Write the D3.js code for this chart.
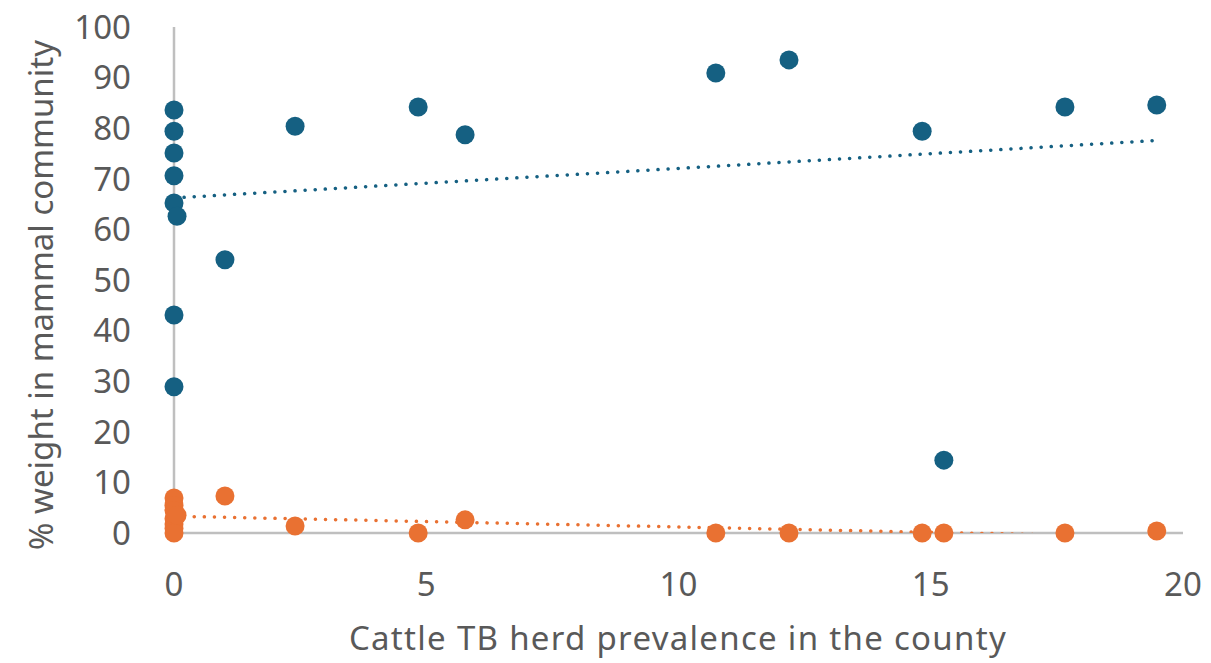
<!DOCTYPE html>
<html>
<head>
<meta charset="utf-8">
<script src="https://cdn.jsdelivr.net/npm/d3@7"></script>
<style>
  body { margin: 0; background: #fff; }
  text { font-family: "Noto Sans", sans-serif; fill: #595959; }
</style>
</head>
<body>
<div id="chart"></div>
<script>
// herd prevalence (x) shared by both series
const prevalence = [0, 0, 0, 0, 0, 0, 0, 0.06, 1.01, 2.4, 4.84, 5.77, 10.74, 12.19, 14.83, 15.26, 17.66, 19.48];
const blueWeight = [83.6, 79.4, 75.1, 70.6, 65.2, 43.1, 28.9, 62.6, 54.0, 80.4, 84.2, 78.7, 90.9, 93.5, 79.4, 14.4, 84.2, 84.6];
const orangeWeight = [6.9, 5.5, 4.5, 2.8, 1.8, 0.9, 0, 3.5, 7.3, 1.4, 0, 2.6, 0, 0, 0, 0, 0, 0.4];
const xTicks = [0, 5, 10, 15, 20];
const yTicks = [0, 10, 20, 30, 40, 50, 60, 70, 80, 90, 100];
const blueColor = "#156082", orangeColor = "#e97132";

const width = 1211, height = 663;
const margin = {left: 174, right: 28, top: 27, bottom: 130};

const svg = d3.select("#chart").append("svg")
    .attr("width", width)
    .attr("height", height);

const x = d3.scaleLinear().domain([0, 20]).range([margin.left, width - margin.right]);
const y = d3.scaleLinear().domain([0, 100]).range([height - margin.bottom, margin.top]);

// clip so trendlines stop at the plot edges
svg.append("clipPath").attr("id", "plot")
  .append("rect")
    .attr("x", x(0)).attr("y", y(100))
    .attr("width", x(20) - x(0)).attr("height", y(0) - y(100));

// axis lines
svg.append("line")
    .attr("x1", x(0)).attr("x2", x(0))
    .attr("y1", y(100)).attr("y2", y(0))
    .attr("stroke", "#bfbfbf").attr("stroke-width", 2.5);
svg.append("line")
    .attr("x1", x(0)).attr("x2", x(20))
    .attr("y1", y(0)).attr("y2", y(0))
    .attr("stroke", "#bfbfbf").attr("stroke-width", 2.5);

// tick labels
svg.selectAll(".ytick").data(yTicks).enter().append("text")
    .attr("x", 131)
    .attr("y", d => y(d))
    .attr("dy", "0.36em")
    .attr("text-anchor", "end")
    .style("font-size", "33px")
    .text(d => d);

svg.selectAll(".xtick").data(xTicks).enter().append("text")
    .attr("x", d => x(d))
    .attr("y", 596)
    .attr("text-anchor", "middle")
    .style("font-size", "33px")
    .text(d => d);

// axis titles
svg.append("text")
    .attr("transform", `translate(53,${(y(0) + y(100)) / 2 + 15}) rotate(-90)`)
    .attr("text-anchor", "middle")
    .style("font-size", "33px")
    .text("% weight in mammal community");
svg.append("text")
    .attr("x", 678)
    .attr("y", 650)
    .attr("text-anchor", "middle")
    .style("font-size", "33px")
    .style("letter-spacing", "1.3px")
    .text("Cattle TB herd prevalence in the county");

// least squares trend for each series
function trend(ys) {
    const mx = d3.mean(prevalence), my = d3.mean(ys);
    let num = 0, den = 0;
    prevalence.forEach((v, i) => { num += (v - mx) * (ys[i] - my); den += (v - mx) ** 2; });
    const slope = num / den;
    return {slope, intercept: my - slope * mx};
}

function drawSeries(ys, color) {
    const t = trend(ys);
    const x0 = d3.min(prevalence), x1 = d3.max(prevalence);
    svg.append("line")
        .attr("clip-path", "url(#plot)")
        .attr("x1", x(x0)).attr("y1", y(t.intercept + t.slope * x0))
        .attr("x2", x(x1)).attr("y2", y(t.intercept + t.slope * x1))
        .attr("stroke", color)
        .attr("stroke-width", 3.5)
        .attr("stroke-linecap", "round")
        .attr("stroke-dasharray", "0.1 10");

    svg.append("g").selectAll("circle")
        .data(prevalence.map((v, i) => [v, ys[i]]))
        .enter().append("circle")
        .attr("cx", d => x(d[0]))
        .attr("cy", d => y(d[1]))
        .attr("r", 9.5)
        .attr("fill", color);
}

drawSeries(blueWeight, blueColor);
drawSeries(orangeWeight, orangeColor);
</script>
</body>
</html>
